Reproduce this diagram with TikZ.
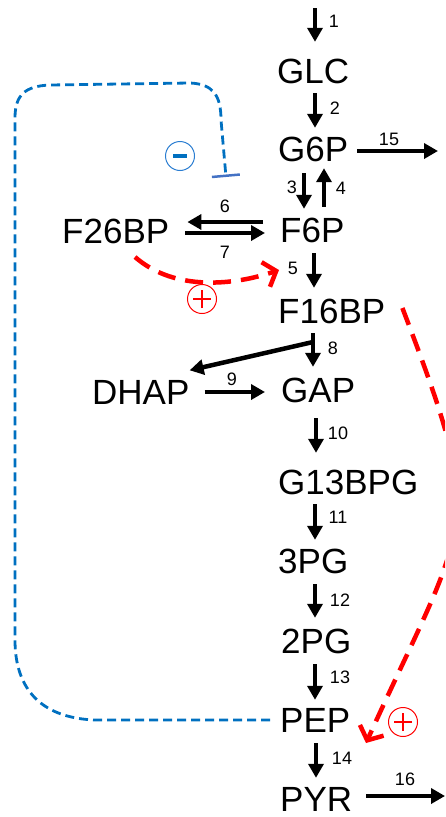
\documentclass[tikz,border=0pt]{standalone}
\usepackage{fontspec}
\setmainfont{Liberation Sans}
\usetikzlibrary{arrows.meta,calc}
\definecolor{myblue}{HTML}{0070C0}
\definecolor{barblue}{HTML}{4472C4}
\definecolor{circblue}{HTML}{2A7DD1}
\begin{document}
\begin{tikzpicture}[x=1pt,y=1pt,
 met/.style={font=\fontsize{35}{40}\selectfont, inner sep=0pt, text height=25pt, text depth=0pt, anchor=west},
 num/.style={font=\fontsize{18}{20}\selectfont, inner sep=0pt},
 arr/.style={line width=4.5pt, -{Triangle[width=15pt,length=14pt]}},
 act/.style={red, line width=4.5pt, dash pattern=on 18pt off 10pt, -{Straight Barb[length=11pt,width=26pt]}},
 inh/.style={myblue, line width=2.8pt, dash pattern=on 9pt off 5pt, -{Bar[width=28pt,line width=2.5pt,color=barblue]}},
 sign/.style={circle, minimum size=29pt, inner sep=0pt, line width=1pt}]

\useasboundingbox (0,0) rectangle (445,-817);

% metabolites
\node[met] (GLC) at (277,-71) {GLC};
\node[met] (G6P) at (278,-149) {G6P};
\node[met] (F6P) at (280,-230) {F6P};
\node[met] (F16BP) at (278,-311) {F16BP};
\node[met] (GAP) at (281,-390) {GAP};
\node[met] (G13BPG) at (278,-482) {G13BPG};
\node[met] (P3G) at (278,-561) {3PG};
\node[met] (P2G) at (281,-641) {2PG};
\node[met] (PEP) at (280,-720) {PEP};
\node[met] (PYR) at (280,-799) {PYR};
\node[met] (F26BP) at (62,-231) {F26BP};
\node[met] (DHAP) at (92,-392) {DHAP};

% helper coordinates
\coordinate (col) at (315,0);
\coordinate (s1) at (315,-8);
\coordinate (e15) at (438,-151);
\coordinate (e16) at (445,-796);
\coordinate (b8) at (313,-342);
\coordinate (a1) at (135,-257);
\coordinate (a2) at (279,-270);
\coordinate (r2) at (366,-743);
\coordinate (inh) at (226,-177);

% reaction arrows
\draw[arr, shorten >=16.5pt] (s1) -- (GLC.north -| col);
\draw[arr, shorten <=9.5pt, shorten >=8.5pt] (GLC.south -| col) -- (G6P.north -| col);
\draw[arr, shorten <=11.5pt, shorten >=8.5pt] (G6P.south -| 304,0) -- (F6P.north -| 304,0);
\draw[arr, shorten <=10.5pt, shorten >=6.5pt] (F6P.north -| 324,0) -- (G6P.south -| 324,0);
\draw[arr, shorten <=10.5pt, shorten >=10.5pt] (F6P.south -| 314,0) -- (F16BP.north -| 314,0);
\draw[arr, shorten <=9.5pt, shorten >=10.5pt] (F16BP.south -| 313,0) -- (GAP.north -| 313,0);
\draw[arr] (b8) -- ([shift={(0,9)}]DHAP.north east);
\draw[arr, shorten <=15.5pt, shorten >=16.5pt] (GAP.south -| 316,0) -- (G13BPG.north -| 316,0);
\draw[arr, shorten <=9.5pt, shorten >=8.5pt] (G13BPG.south -| col) -- (P3G.north -| col);
\draw[arr, shorten <=10.5pt, shorten >=10.5pt] (P3G.south -| col) -- (P2G.north -| col);
\draw[arr, shorten <=10.5pt, shorten >=7.5pt] (P2G.south -| col) -- (PEP.north -| col);
\draw[arr, shorten <=10.5pt, shorten >=8.5pt] (PEP.south -| 316,0) -- (PYR.north -| 316,0);
\draw[arr, shorten <=9pt] (G6P.east |- e15) -- (e15);
\draw[arr, shorten <=14pt] (PYR.east |- e16) -- (e16);
\draw[arr, shorten <=17pt, shorten >=18pt] (F6P.west |- 0,-222) -- (F26BP.east |- 0,-222);
\draw[arr, shorten <=16pt, shorten >=15pt] (F26BP.east |- 0,-233) -- (F6P.west |- 0,-233);
\draw[arr, shorten <=15pt, shorten >=16pt] (DHAP.east |- 0,-392) -- (GAP.west |- 0,-392);

% labels
\node[num] (l1) at (334,-21) {1};
\node[num] (l2) at (335,-108) {2};
\node[num] (l15) at (389,-139) {15};
\node[num] (l3) at (292,-187) {3};
\node[num] (l4) at (341,-188) {4};
\node[num] (l6) at (225,-206) {6};
\node[num] (l7) at (225,-252) {7};
\node[num] (l5) at (293,-268) {5};
\node[num] (l8) at (333,-348) {8};
\node[num] (l9) at (232,-379) {9};
\node[num] (l10) at (338,-433) {10};
\node[num] (l11) at (338,-517) {11};
\node[num] (l12) at (340,-600) {12};
\node[num] (l13) at (340,-677) {13};
\node[num] (l14) at (342,-758) {14};
\node[num] (l16) at (405,-779) {16};

% activation (red)
\draw[act] (a1) .. controls (175,-292) and (235,-285) .. (a2);
\begin{scope}
\clip (0,0) rectangle (445,-817);
\draw[act] ([shift={(17,3)}]F16BP.east) .. controls (488,-532) and (470,-514) .. (r2);
\end{scope}
\node[sign, draw=red] (plus1) at (202,-299) {};
\draw[red, line width=1.2pt] ([xshift=-9pt]plus1.center) -- ([xshift=9pt]plus1.center)
  ([yshift=-9pt]plus1.center) -- ([yshift=9pt]plus1.center);
\node[sign, draw=red] (plus2) at (403,-722) {};
\draw[red, line width=1.2pt] ([xshift=-9pt]plus2.center) -- ([xshift=9pt]plus2.center)
  ([yshift=-9pt]plus2.center) -- ([yshift=9pt]plus2.center);

% inhibition (blue)
\draw[inh] ([xshift=-10pt]PEP.west) -- (95,-720) .. controls (42,-718) and (15,-690) .. (15,-640)
  -- (15,-118) .. controls (15,-95) and (25,-86) .. (50,-85) -- (190,-83)
  .. controls (212,-84) and (221,-94) .. (221,-120) -- (inh);
\node[sign, draw=circblue] (minus) at (180,-156) {};
\draw[myblue, line width=3.5pt] ([xshift=-7pt]minus.center) -- ([xshift=7pt]minus.center);
\end{tikzpicture}
\end{document}
